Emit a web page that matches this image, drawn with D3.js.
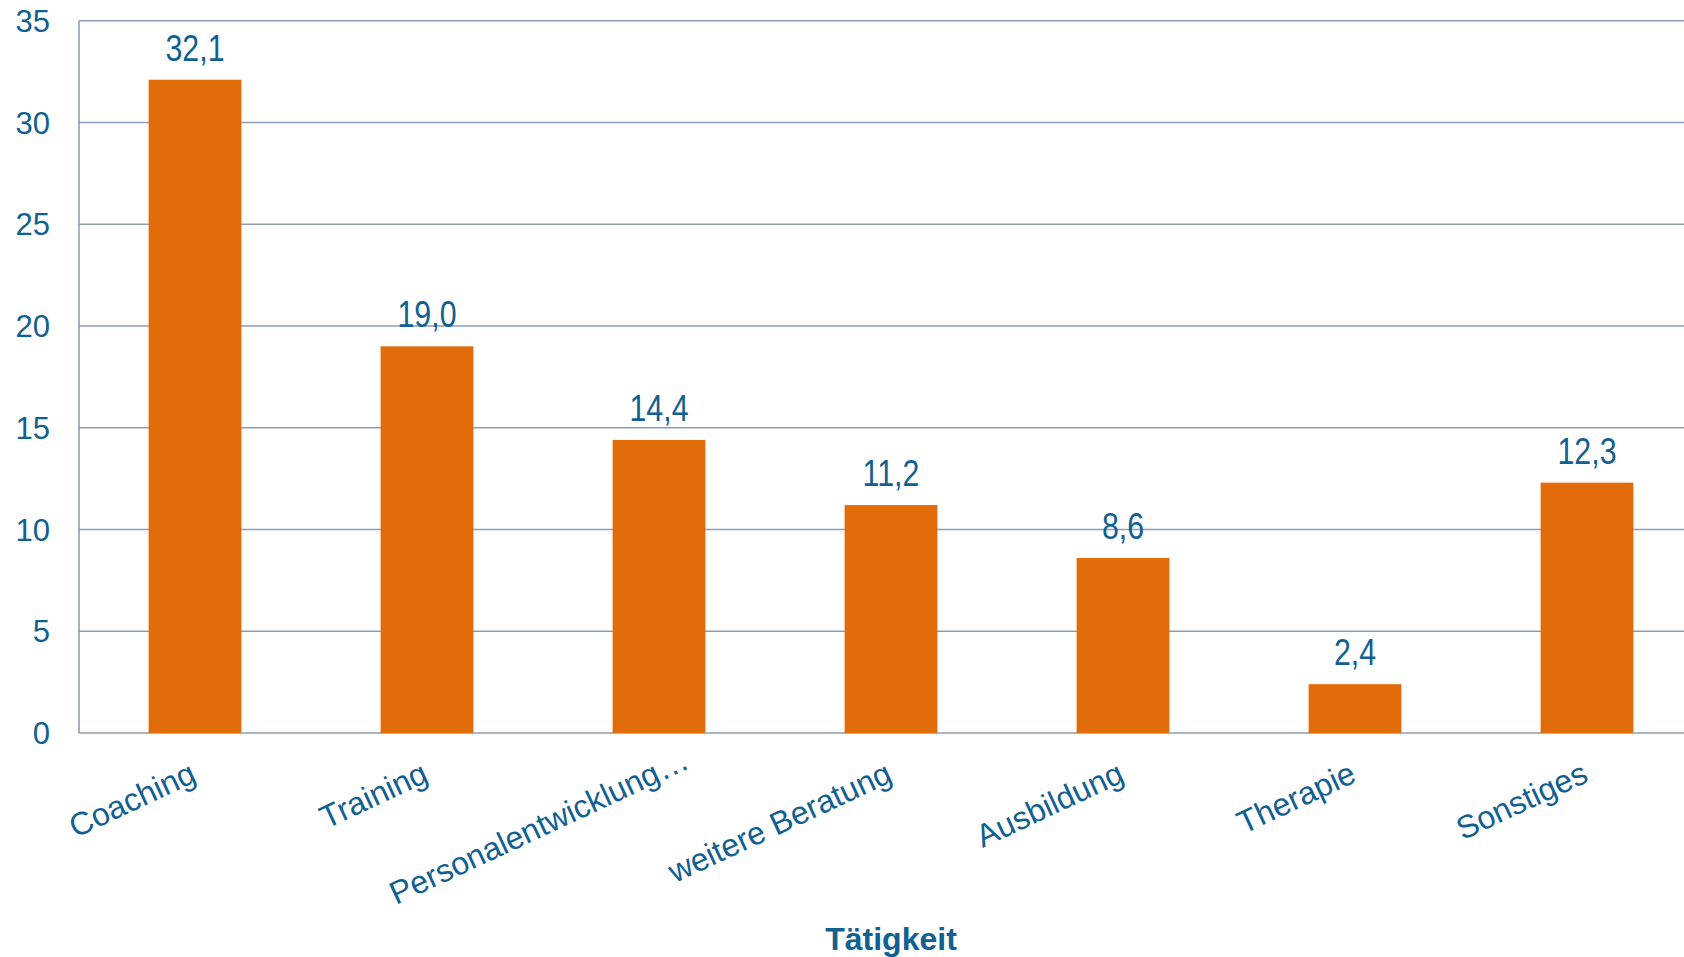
<!DOCTYPE html>
<html>
<head>
<meta charset="utf-8">
<script src="https://cdn.jsdelivr.net/npm/d3@7"></script>
<style>
  html, body { margin: 0; padding: 0; background: #fff; overflow: hidden; }
</style>
</head>
<body>
<div id="chart"></div>
<script>
// Tätigkeit bar chart, values in percent
const categories = ["Coaching", "Training", "Personalentwicklung…", "weitere Beratung", "Ausbildung", "Therapie", "Sonstiges"];
const values = [32.1, 19.0, 14.4, 11.2, 8.6, 2.4, 12.3];
const yTicks = [0, 5, 10, 15, 20, 25, 30, 35];
const axisTitle = "Tätigkeit";

const width = 1684;
const height = 957;
// the plot area runs past the right edge of the picture (it is cropped there)
const margin = { left: 79, top: 20.7, bottom: 733 };
const plotRight = 79 + 7 * 232;

const blue = "#106091";
const grid = "#8c9db6";
const orange = "#e36c0a";
const font = "'Liberation Sans', Arial, sans-serif";

const svg = d3.select("#chart").append("svg")
    .attr("width", width)
    .attr("height", height)
    .style("display", "block");

const x = d3.scaleBand()
    .domain(categories)
    .range([margin.left, plotRight])
    .paddingInner(0.6)
    .paddingOuter(0.3);

const y = d3.scaleLinear()
    .domain([0, 35])
    .range([margin.bottom, margin.top]);

// gridlines
svg.append("g")
    .selectAll("line")
    .data(yTicks)
    .join("line")
    .attr("x1", margin.left).attr("x2", plotRight)
    .attr("y1", d => y(d)).attr("y2", d => y(d))
    .attr("stroke", grid)
    .attr("stroke-width", 1.6);

// left axis line
svg.append("line")
    .attr("x1", margin.left).attr("x2", margin.left)
    .attr("y1", y(35)).attr("y2", y(0))
    .attr("stroke", grid)
    .attr("stroke-width", 1.6);

// y tick labels
svg.append("g")
    .selectAll("text")
    .data(yTicks)
    .join("text")
    .attr("x", 50)
    .attr("y", d => y(d))
    .attr("dy", "0.36em")
    .attr("text-anchor", "end")
    .attr("fill", blue)
    .attr("font-family", font)
    .attr("font-size", 31)
    .text(d => d);

// bars
svg.append("g")
    .selectAll("rect")
    .data(values)
    .join("rect")
    .attr("x", (d, i) => x(categories[i]))
    .attr("y", d => y(d))
    .attr("width", x.bandwidth())
    .attr("height", d => y(0) - y(d))
    .attr("fill", orange);

// value labels (narrow look: squeeze Liberation Sans horizontally)
svg.append("g")
    .selectAll("text")
    .data(values)
    .join("text")
    .attr("transform", (d, i) => `translate(${x(categories[i]) + x.bandwidth() / 2},${y(d) - 19}) scale(0.82,1)`)
    .attr("text-anchor", "middle")
    .attr("fill", blue)
    .attr("font-family", font)
    .attr("font-size", 37)
    .text(d => d.toFixed(1).replace(".", ","));

// category labels, rotated; the truncated one sits further along its baseline
svg.append("g")
    .selectAll("text")
    .data(categories)
    .join("text")
    .attr("transform", d => `translate(${x(d) + x.bandwidth() / 2 + 3},${margin.bottom + 48}) rotate(-25)`)
    .attr("dx", d => d.endsWith("…") ? 32 : 0)
    .attr("text-anchor", "end")
    .attr("fill", blue)
    .attr("font-family", font)
    .attr("font-size", 32)
    .text(d => d);

// x axis title
svg.append("text")
    .attr("x", (margin.left + plotRight) / 2)
    .attr("y", 950)
    .attr("text-anchor", "middle")
    .attr("fill", blue)
    .attr("font-family", font)
    .attr("font-weight", "bold")
    .attr("font-size", 32)
    .text(axisTitle);
</script>
</body>
</html>
